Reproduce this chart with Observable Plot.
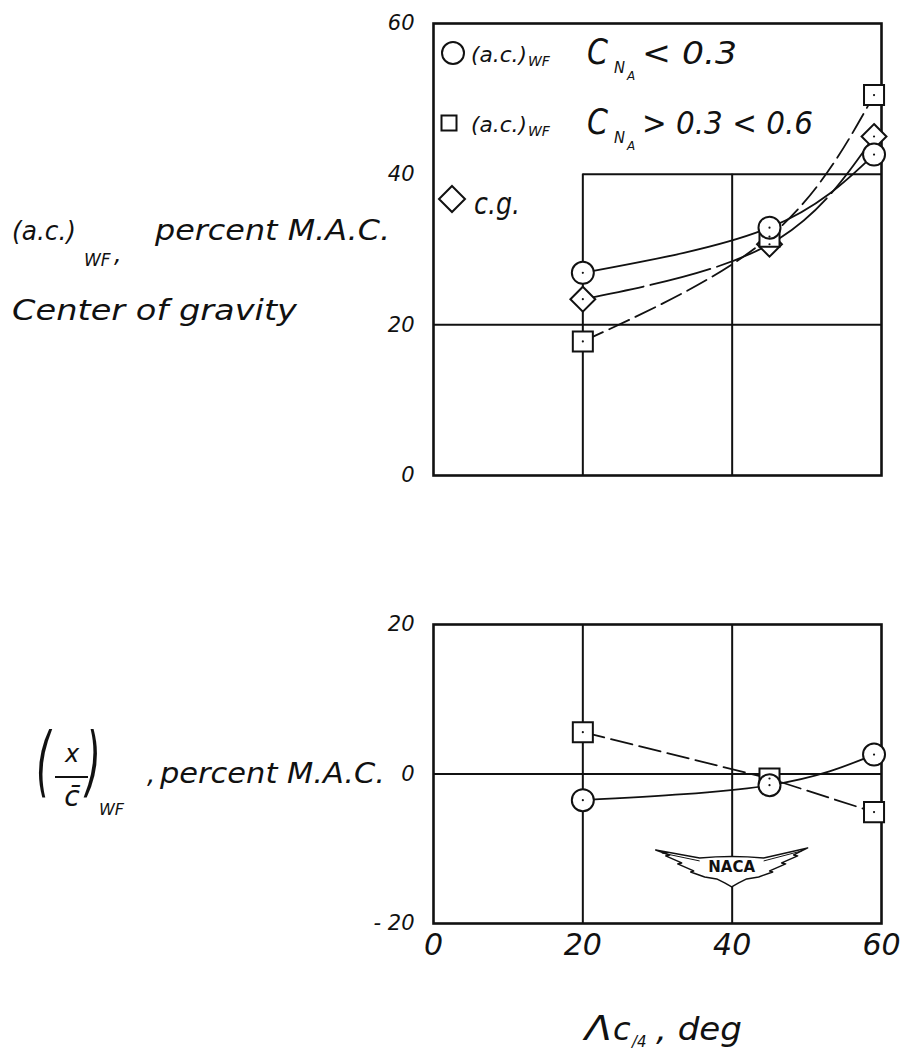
<!DOCTYPE html>
<html><head><meta charset="utf-8">
<script src="https://cdn.jsdelivr.net/npm/d3@7"></script>
<script src="https://cdn.jsdelivr.net/npm/@observablehq/plot@0.6"></script>
<style>
body{margin:0;background:#fff;}
#chart{position:relative;width:904px;height:1055px;background:#fff;}
svg{display:block;}
</style></head><body><div id="chart"></div>
<script>
// ---- data ----
const sweep = [20, 45, 59];                 // Λc/4, deg
const acLow = [26.9, 32.9, 42.6];           // (a.c.)WF, CNA < 0.3 (circles)
const acMid = [17.8, 31.7, 50.5];           // (a.c.)WF, CNA > 0.3 < 0.6 (squares)
const cgVals = [23.4, 30.7, 45.0];          // c.g. (diamonds)
const xcLow = [-3.5, -1.5, 2.6];            // (x/c)WF, CNA < 0.3
const xcMid = [5.6, -0.6, -5.1];            // (x/c)WF, CNA > 0.3 < 0.6
const xTicks = [0, 20, 40, 60];
const yTicksTop = [0, 20, 40, 60];
const yTicksBottom = [-20, 0, 20];
const logoAt = [40, -12.5];

const FONT = "'DejaVu Sans', 'Liberation Sans', sans-serif";
const rows = ys => sweep.map((x, i) => ({x, y: ys[i]}));
const ink = "#111";

const lineOpts = {x: "x", y: "y", curve: "natural", stroke: ink, strokeWidth: 1.8};
const dotOpts = {x: "x", y: "y", r: 11, fill: "white", stroke: ink, strokeWidth: 2};
const centerDot = {x: "x", y: "y", r: 1.1, fill: ink};
const tickText = {fontStyle: "italic", fontWeight: 300, fill: ink};

// ---------------- top panel ----------------
const topPlot = Plot.plot({
  width: 904, height: 500,
  marginLeft: 433, marginRight: 23, marginTop: 23, marginBottom: 25,
  x: {domain: [0, 60], axis: null},
  y: {domain: [0, 60], axis: null},
  style: {fontFamily: FONT, background: "white", overflow: "visible"},
  marks: [
    Plot.ruleY([yTicksTop[1]], {x1: xTicks[0], x2: xTicks[3], stroke: ink, strokeWidth: 2}),
    Plot.ruleY([yTicksTop[2]], {x1: xTicks[1], x2: xTicks[3], stroke: ink, strokeWidth: 2}),
    Plot.ruleX(xTicks.slice(1, 3), {y1: yTicksTop[0], y2: yTicksTop[2], stroke: ink, strokeWidth: 2}),
    Plot.frame({stroke: ink, strokeWidth: 2.6}),
    Plot.line(rows(acLow), lineOpts),
    Plot.line(rows(cgVals), {...lineOpts, strokeDasharray: "62,7"}),
    Plot.line(rows(acMid), {...lineOpts, strokeDasharray: "22,7"}),
    Plot.dot(rows(cgVals), {...dotOpts, symbol: "diamond2", r: 11.2}),
    Plot.dot(rows(acMid), {...dotOpts, symbol: "square", r: 11.3}),
    Plot.dot(rows(acLow), {...dotOpts, symbol: "circle"}),
    Plot.dot([...rows(cgVals), ...rows(acMid), ...rows(acLow)], centerDot),
    Plot.text(yTicksTop, {y: d => d, frameAnchor: "left", dx: -19, textAnchor: "end",
      fontSize: 21, ...tickText})
  ]
});

// ---------------- bottom panel ----------------
function nacaLogo(index, scales) {
  const cx = scales.x(logoAt[0]), cy = scales.y(logoAt[1]);
  const g = d3.create("svg:g").attr("transform", `translate(${cx},${cy})`);
  const wing = "M-76,-17 L-32,-9 Q0,-12 32,-9 L76,-19 L62,-12 L66,-11 L50,-4 L54,-3 L38,4 L41,5 L27,10 L15,12 L7,16 L0,20 L-7,16 L-15,12 L-27,10 L-41,5 L-38,4 L-54,-3 L-50,-4 L-66,-11 L-62,-12 Z";
  g.append("path").attr("d", wing).attr("fill", "white").attr("stroke", ink)
    .attr("stroke-width", 1.5).attr("stroke-linejoin", "round");
  g.append("path").attr("d", "M-70,-14 L-32,-6 M32,-6 L70,-16").attr("fill", "none")
    .attr("stroke", ink).attr("stroke-width", 1);
  g.append("text").attr("x", 0).attr("y", 5).attr("text-anchor", "middle")
    .attr("font-family", "'DejaVu Sans', sans-serif").attr("font-weight", "bold")
    .attr("font-size", 15).attr("fill", ink).text("NACA");
  return g.node();
}

const bottomPlot = Plot.plot({
  width: 904, height: 555,
  marginLeft: 433, marginRight: 23, marginTop: 124, marginBottom: 132,
  x: {domain: [0, 60], axis: null},
  y: {domain: [-20, 20], axis: null},
  style: {fontFamily: FONT, background: "white", overflow: "visible"},
  marks: [
    Plot.ruleY([yTicksBottom[1]], {x1: xTicks[0], x2: xTicks[3], stroke: ink, strokeWidth: 2}),
    Plot.ruleX(xTicks.slice(1, 3), {y1: yTicksBottom[0], y2: yTicksBottom[2], stroke: ink, strokeWidth: 2}),
    Plot.frame({stroke: ink, strokeWidth: 2.6}),
    nacaLogo,
    Plot.line(rows(xcMid), {...lineOpts, curve: "linear", strokeDasharray: "22,7"}),
    Plot.line(rows(xcLow), lineOpts),
    Plot.dot(rows(xcMid), {...dotOpts, symbol: "square", r: 11.3}),
    Plot.dot(rows(xcLow), {...dotOpts, symbol: "circle"}),
    Plot.dot([...rows(xcMid), ...rows(xcLow)], centerDot),
    Plot.text(yTicksBottom, {y: d => d, frameAnchor: "left", dx: -19, textAnchor: "end",
      text: d => d < 0 ? "- " + Math.abs(d) : String(d),
      fontSize: 21, ...tickText}),
    Plot.text(xTicks, {x: d => d, frameAnchor: "bottom", dy: 31,
      fontSize: 30, ...tickText})
  ]
});

const chart = document.getElementById("chart");
chart.append(topPlot, bottomPlot);

// ---------------- annotations ----------------
function label(svg, x, y, t, size, extra = {}) {
  const e = d3.select(svg).append("text")
    .attr("x", x).attr("y", y)
    .attr("text-anchor", "start")
    .attr("font-family", FONT).attr("font-style", "italic")
    .attr("font-size", size).attr("fill", ink).text(t);
  for (const [k, v] of Object.entries(extra)) e.attr(k, v);
  return e;
}
const squeeze = len => ({textLength: len, lengthAdjust: "spacingAndGlyphs"});

// top-left axis labels
label(topPlot, 12, 240, "(a.c.)", 26, squeeze(64));
label(topPlot, 84, 266, "WF", 17);
label(topPlot, 114, 262, ",", 24);
label(topPlot, 155, 240, "percent M.A.C.", 28, squeeze(235));
label(topPlot, 12, 320, "Center of gravity", 28, squeeze(285));

// legend
const lg = d3.select(topPlot).append("g").attr("fill", "white").attr("stroke", ink).attr("stroke-width", 2);
lg.append("circle").attr("cx", 453).attr("cy", 53).attr("r", 11);
lg.append("rect").attr("x", 441.5).attr("y", 115.5).attr("width", 15).attr("height", 15);
lg.append("path").attr("d", "M452,186 L465,199 L452,212 L439,199 Z");

[[62, "< 0.3", 95], [132, "> 0.3 < 0.6", 171]].forEach(([b, t, len]) => {
  label(topPlot, 471, b, "(a.c.)", 21, squeeze(56));
  label(topPlot, 528, b + 4, "WF", 14);
  label(topPlot, 587, b + 2, "C", 36, squeeze(21));
  label(topPlot, 614, b + 11, "N", 15, squeeze(11));
  label(topPlot, 627, b + 18, "A", 12);
  label(topPlot, 642, b + 2, t, 32, squeeze(len));
});
label(topPlot, 474, 214, "c.g.", 30, squeeze(46));

// bottom-left axis label
label(bottomPlot, 0, 0, "(", 38, {transform: "translate(36,287) scale(1,2)"});
label(bottomPlot, 72, 262, "x", 24, {"text-anchor": "middle"});
d3.select(bottomPlot).append("line").attr("x1", 55).attr("x2", 88).attr("y1", 277).attr("y2", 277)
  .attr("stroke", ink).attr("stroke-width", 2);
label(bottomPlot, 72, 306, "c\u0304", 28, {"text-anchor": "middle"});
label(bottomPlot, 0, 0, ")", 38, {transform: "translate(86,287) scale(1,2)"});
label(bottomPlot, 99, 315, "WF", 16);
label(bottomPlot, 147, 283, ",", 26);
label(bottomPlot, 160, 283, "percent M.A.C.", 28, squeeze(225));

// x-axis label
label(bottomPlot, 585, 540, "\u039B", 34, squeeze(27));
label(bottomPlot, 613, 540, "c", 32);
label(bottomPlot, 632, 547, "/4", 15);
label(bottomPlot, 656, 540, ", deg", 32, squeeze(86));
</script>
</body></html>
